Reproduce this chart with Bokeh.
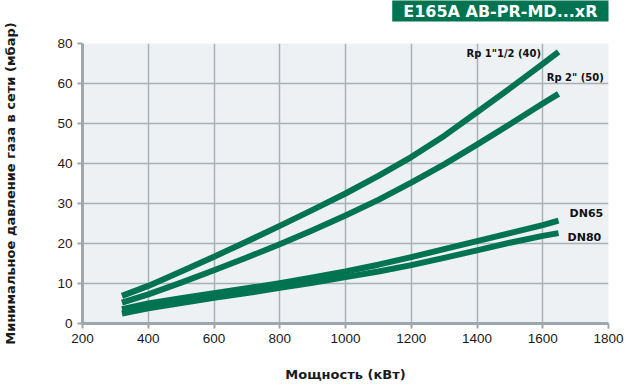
from bokeh.plotting import figure
from bokeh.models import FixedTicker, Range1d, Title
from bokeh.core.properties import value
from bokeh.embed import file_html
from bokeh.resources import INLINE

# ---- data ----
power = [320, 400, 500, 600, 700, 800, 900, 1000, 1100, 1200, 1300, 1400, 1500, 1600, 1648]
rp40 = [6.9, 9.4, 13.0, 16.7, 20.5, 24.4, 28.4, 32.5, 36.9, 41.6, 46.9, 52.8, 58.8, 64.9, 67.9]
rp50 = [5.2, 7.3, 10.2, 13.3, 16.5, 19.8, 23.3, 27.0, 30.9, 35.2, 39.8, 44.7, 49.8, 55.0, 57.4]
dn65 = [3.6, 5.0, 6.3, 7.6, 8.8, 10.1, 11.5, 13.0, 14.7, 16.6, 18.6, 20.6, 22.6, 24.6, 25.7]
dn80 = [2.5, 3.8, 5.1, 6.4, 7.6, 8.9, 10.2, 11.6, 13.0, 14.6, 16.4, 18.3, 20.2, 21.9, 22.6]

x_ticks = [200, 400, 600, 800, 1000, 1200, 1400, 1600, 1800]
y_ticks = [0, 10, 20, 30, 40, 50, 60, 70]
y_tick_labels = ["0", "10", "20", "30", "40", "50", "60", "80"]

series_names = ['Rp 1"1/2 (40)', 'Rp 2" (50)', "DN65", "DN80"]
title_text = "E165A AB-PR-MD...xR"
x_title = "Мощность (кВт)"
y_title = "Минимальное давление газа в сети (мбар)"

GREEN = "#007350"
GRID = "#a9b0b6"
AXIS = "#9fa7ae"

p = figure(width=628, height=389, title_location=None,
           x_range=Range1d(200, 1800), y_range=Range1d(0, 70),
           output_backend="svg", toolbar_location=None,
           min_border_left=79, min_border_right=20,
           min_border_top=43, min_border_bottom=66)
p.outline_line_color = None
p.background_fill_color = "#edf1f4"
p.border_fill_color = "white"

# spacer between frame and title box
spacer = Title(text=" ", text_font_size="1px", standoff=17, align="right")
p.add_layout(spacer, "above")

# title box
box_title = Title(text=title_text, align="right", vertical_align="top",
                  text_color="white", background_fill_color=GREEN,
                  text_font="DejaVu Sans", text_font_size="16px", text_font_style="bold",
                  text_line_height=1.0, padding=(11, 1), offset=0, standoff=0)
p.add_layout(box_title, "above")

p.xaxis.ticker = FixedTicker(ticks=x_ticks)
p.yaxis.ticker = FixedTicker(ticks=y_ticks)
p.yaxis.major_label_overrides = {t: l for t, l in zip(y_ticks, y_tick_labels)}

for ax in (p.xaxis[0], p.yaxis[0]):
    ax.axis_line_color = AXIS
    ax.axis_line_width = 3
    ax.major_tick_line_color = AXIS
    ax.major_tick_line_width = 2
    ax.major_tick_out = 5
    ax.major_tick_in = 0
    ax.minor_tick_line_color = None
    ax.major_label_text_font = "Liberation Sans"
    ax.major_label_text_font_size = "13.5px"
    ax.major_label_text_color = "#1a1a1a"
    ax.major_label_standoff = 5
    ax.axis_label_text_font = "DejaVu Sans"
    ax.axis_label_text_font_size = "13px"
    ax.axis_label_text_font_style = "bold"
    ax.axis_label_text_color = "#1a1a1a"

p.xaxis.axis_label = x_title
p.yaxis.axis_label = y_title
p.xaxis.axis_label_standoff = 21
p.yaxis.axis_label_standoff = 36

p.xgrid.grid_line_color = GRID
p.ygrid.grid_line_color = GRID
p.xgrid.grid_line_width = 1.5
p.ygrid.grid_line_width = 1.5

for ys in (rp40, rp50, dn65, dn80):
    p.line(power, ys, line_width=6, line_color=GREEN, line_cap="butt", line_join="round")

# curve labels
p.text(x=[1595], y=[67.5], text=[series_names[0]], text_align="right", text_baseline="middle",
       text_font=value("DejaVu Sans"), text_font_style="bold", text_font_size="10px", text_color="#111111")
p.text(x=[1612], y=[61.6], text=[series_names[1]], text_align="left", text_baseline="middle",
       text_font=value("DejaVu Sans"), text_font_style="bold", text_font_size="10px", text_color="#111111")
p.text(x=[1784], y=[27.6], text=[series_names[2]], text_align="right", text_baseline="middle",
       text_font=value("DejaVu Sans"), text_font_style="bold", text_font_size="11px", text_color="#111111")
p.text(x=[1778], y=[21.5], text=[series_names[3]], text_align="right", text_baseline="middle",
       text_font=value("DejaVu Sans"), text_font_style="bold", text_font_size="11px", text_color="#111111")

open("out.html", "w").write(file_html(p, INLINE))
